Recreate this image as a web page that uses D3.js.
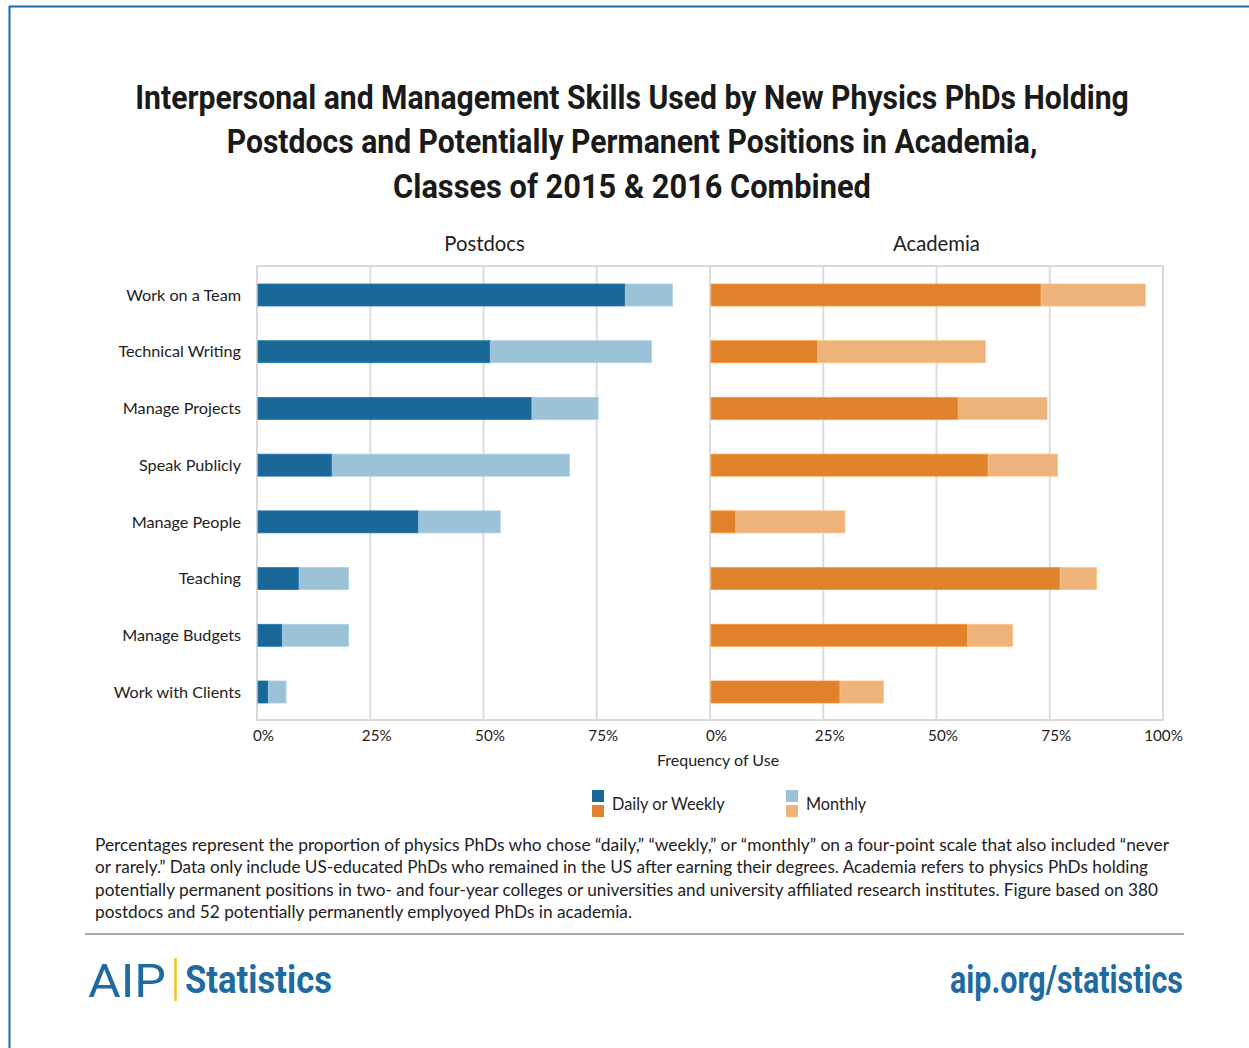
<!DOCTYPE html>
<html><head><meta charset="utf-8">
<script src="https://cdn.jsdelivr.net/npm/d3@7"></script>
<style>
body{margin:0;background:#fff;}
svg{display:block;}
</style></head><body>
<svg id="chart" width="1249" height="1048"></svg>
<script>
const categories = ["Work on a Team","Technical Writing","Manage Projects","Speak Publicly","Manage People","Teaching","Manage Budgets","Work with Clients"];
const postdocDaily   = [81.3, 51.5, 60.7, 16.6, 35.7, 9.3, 5.6, 2.5];
const postdocMonthly = [10.4, 35.6, 14.6, 52.4, 18.0, 10.9, 14.6, 3.9];
const academiaDaily   = [73.1, 23.8, 54.8, 61.4, 5.7, 77.3, 56.9, 28.7];
const academiaMonthly = [23.0, 37.0, 19.6, 15.3, 24.1, 8.0, 9.9, 9.6];
const tickValues = [0, 25, 50, 75, 100];
const panelTitles = ["Postdocs", "Academia"];
const seriesNames = ["Daily or Weekly", "Monthly"];
const titleLines = ["Interpersonal and Management Skills Used by New Physics PhDs Holding",
  "Postdocs and Potentially Permanent Positions in Academia,",
  "Classes of 2015 & 2016 Combined"];
const noteLines = ["Percentages represent the proportion of physics PhDs who chose \u201cdaily,\u201d \u201cweekly,\u201d or \u201cmonthly\u201d on a four-point scale that also included \u201cnever",
  "or rarely.\u201d Data only include US-educated PhDs who remained in the US after earning their degrees. Academia refers to physics PhDs holding",
  "potentially permanent positions in two- and four-year colleges or universities and university affiliated research institutes. Figure based on 380",
  "postdocs and 52 potentially permanently emplyoyed PhDs in academia."];

(function(){
const svg = d3.select("#chart");
const BODY = "Lato, 'Open Sans', sans-serif";
const COND = "Roboto, 'Liberation Sans', sans-serif";
const blue = "#1a6898", lblue = "#9bc2d7", orange = "#e0812b", lorange = "#edb37a";
const textCol = "#222";

// fit text to a target width (stretch or squeeze)
function fit(sel, w){
  const n = sel.node(); const L = n.getComputedTextLength();
  if (L > 0) sel.attr("textLength", w).attr("lengthAdjust","spacingAndGlyphs");
  return sel;
}
// squeeze text horizontally with a transform, centred on cx
function squeeze(sel, cx, cy, w){
  const L = sel.node().getComputedTextLength();
  const s = L > 0 ? w / L : 1;
  sel.attr("x",0).attr("y",0).attr("transform",`translate(${cx},${cy}) scale(${s},1)`);
  return sel;
}

// border
svg.append("line").attr("x1",9).attr("x2",1249).attr("y1",6.5).attr("y2",6.5).attr("stroke","#1f6aa8").attr("stroke-width",2);
svg.append("line").attr("x1",9.5).attr("x2",9.5).attr("y1",6).attr("y2",1048).attr("stroke","#1f6aa8").attr("stroke-width",2);

// title
const titleY = [97,141,186];
const titleW = [994, 811, 478];
titleLines.forEach((t,i)=>{
  const s = svg.append("text").attr("text-anchor","middle")
    .attr("font-family",COND).attr("font-weight","bold").attr("font-size",34).attr("fill","#1a1a1a").text(t);
  squeeze(s, 632, titleY[i]+11.5, titleW[i]);
});

const pTop = 266, pBottom = 720, pLeft = 257, pMid = 710, pRight = 1163;
const xP = d3.scaleLinear().domain([0,100]).range([pLeft, pMid]);
const xA = d3.scaleLinear().domain([0,100]).range([pMid, pRight]);
const y = d3.scalePoint().domain(categories).range([295, 692]);
const barH = 22;

// frame
svg.append("rect").attr("x",pLeft).attr("y",pTop).attr("width",pRight-pLeft).attr("height",pBottom-pTop)
  .attr("fill","none").attr("stroke","#d9d9d9").attr("stroke-width",2);

// gridlines
function grid(x){
  svg.append("g").selectAll("line").data(tickValues.filter(v=>v>0&&v<100)).join("line")
    .attr("x1",d=>x(d)).attr("x2",d=>x(d)).attr("y1",pTop).attr("y2",pBottom)
    .attr("stroke","#dcdcdc").attr("stroke-width",2);
}
grid(xP); grid(xA);
svg.append("line").attr("x1",pMid).attr("x2",pMid).attr("y1",pTop).attr("y2",pBottom).attr("stroke","#dcdcdc").attr("stroke-width",2);

// bars
function bars(x, daily, monthly, c1, c2){
  const g = svg.append("g");
  g.selectAll("rect.d").data(categories).join("rect")
    .attr("x",x(0)+1).attr("y",d=>y(d)-barH/2).attr("height",barH)
    .attr("width",(d,i)=>x(daily[i])-x(0)-1).attr("fill",c1)
    .attr("stroke",d3.color(c1).brighter(0.4)).attr("stroke-width",0.8);
  g.selectAll("rect.m").data(categories).join("rect")
    .attr("x",(d,i)=>x(daily[i])).attr("y",d=>y(d)-barH/2).attr("height",barH)
    .attr("width",(d,i)=>x(daily[i]+monthly[i])-x(daily[i])).attr("fill",c2)
    .attr("stroke",d3.color(c2).brighter(0.2)).attr("stroke-width",0.8);
}
bars(xP, postdocDaily, postdocMonthly, blue, lblue);
bars(xA, academiaDaily, academiaMonthly, orange, lorange);

// axes
const axP = d3.axisBottom(xP).tickValues(tickValues.filter(v=>v<100)).tickSize(0).tickFormat(d=>d+"%");
const axA = d3.axisBottom(xA).tickValues(tickValues).tickSize(0).tickFormat(d=>d+"%");
function styleAxis(g){
  g.select(".domain").remove();
  g.selectAll("text").attr("font-family",BODY).attr("font-size",15.2).attr("fill",textCol).attr("dx",6).attr("dy","0.9em");
}
svg.append("g").attr("transform",`translate(0,${pBottom+4})`).call(axP).call(styleAxis);
svg.append("g").attr("transform",`translate(0,${pBottom+4})`).call(axA).call(styleAxis)
  .selectAll("text").filter(d=>d===100).attr("dx",0);

// category labels
const ax = d3.axisLeft(y).tickSize(0).tickPadding(16);
svg.append("g").attr("transform",`translate(${pLeft},0)`).call(ax).call(g=>{
  g.select(".domain").remove();
  g.selectAll("text").attr("font-family",BODY).attr("font-size",16.2).attr("fill",textCol);
});

// panel titles
svg.append("text").attr("x",(pLeft+pMid)/2+1).attr("y",251).attr("text-anchor","middle").attr("font-family",BODY).attr("font-size",20.3).attr("fill",textCol).text(panelTitles[0]);
svg.append("text").attr("x",(pMid+pRight)/2).attr("y",251).attr("text-anchor","middle").attr("font-family",BODY).attr("font-size",20.3).attr("fill",textCol).text(panelTitles[1]);

// axis title
svg.append("text").attr("x",718).attr("y",766).attr("text-anchor","middle").attr("font-family",BODY).attr("font-size",16).attr("fill",textCol).text("Frequency of Use");

// legend
const leg = [{x:592, c1:blue, c2:orange, t:seriesNames[0]},{x:786, c1:lblue, c2:lorange, t:seriesNames[1]}];
leg.forEach(l=>{
  svg.append("rect").attr("x",l.x).attr("y",790).attr("width",12).attr("height",12).attr("fill",l.c1);
  svg.append("rect").attr("x",l.x).attr("y",805).attr("width",12).attr("height",12).attr("fill",l.c2);
  svg.append("text").attr("x",l.x+20).attr("y",810).attr("font-family",BODY).attr("font-size",16.3).attr("fill",textCol).text(l.t);
});

// notes
const noteW = [1074, 1053, 1063, 537];
noteLines.forEach((t,i)=>{
  const s = svg.append("text").attr("x",95).attr("y",851+i*22.3).attr("font-family",BODY).attr("font-size",16.6).attr("fill",textCol).text(t);
  fit(s, noteW[i]);
});

// rule
svg.append("line").attr("x1",85).attr("x2",1184).attr("y1",934).attr("y2",934).attr("stroke","#888").attr("stroke-width",1.5);

// footer
const aipBlue = "#1f6aa0";
fit(svg.append("text").attr("x",88).attr("y",997).attr("font-family","Roboto, sans-serif").attr("font-size",47).attr("fill",aipBlue).text("AIP"), 78);
svg.append("line").attr("x1",175.5).attr("x2",175.5).attr("y1",958).attr("y2",1001).attr("stroke","#f5c518").attr("stroke-width",2.5);
fit(svg.append("text").attr("x",185).attr("y",993).attr("font-family",COND).attr("font-weight","bold").attr("font-size",38).attr("fill",aipBlue).text("Statistics"), 147);
fit(svg.append("text").attr("x",950).attr("y",993).attr("font-family",COND).attr("font-weight","bold").attr("font-size",38).attr("fill",aipBlue).text("aip.org/statistics"), 233);
})();
</script>
</body></html>
